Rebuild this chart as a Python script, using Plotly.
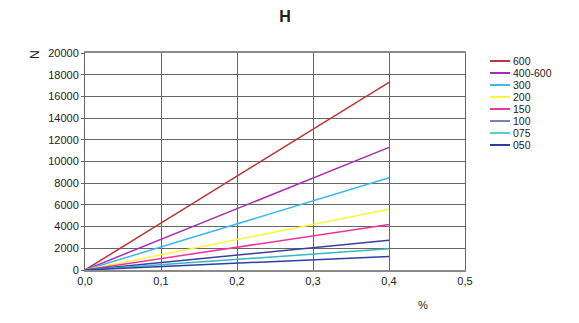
import plotly.graph_objects as go

strain = [0.0, 0.4]
series_names = ["600", "400-600", "300", "200", "150", "100", "075", "050"]
force_600 = [0, 17300]
force_400_600 = [0, 11300]
force_300 = [0, 8500]
force_200 = [0, 5600]
force_150 = [0, 4200]
force_100 = [0, 2750]
force_075 = [0, 1950]
force_050 = [0, 1250]
series_values = [force_600, force_400_600, force_300, force_200,
                 force_150, force_100, force_075, force_050]
colors = ["#B8383A", "#A62DB4", "#3DB8EE", "#FFF23A",
          "#F0339A", "#3A3F9E", "#33B8C4", "#2D3FA6"]
legend_colors = ["#B8383A", "#A62DB4", "#3DB8EE", "#FFF23A",
                 "#F0339A", "#7A7FC0", "#5CC8D0", "#2D3FA6"]

# plot-area geometry in pixels (for placing legend/labels in paper coords)
L, R, T, B = 85, 465, 53, 270
W, H = R - L, B - T

def px_x(p):
    return (p - L) / W

def px_y(p):
    return (B - p) / H

fig = go.Figure()
for name, vals, c in zip(series_names, series_values, colors):
    fig.add_trace(go.Scatter(x=strain, y=vals, mode="lines", name=name,
                             line=dict(color=c, width=1.5), showlegend=False))

shapes = []
annotations = []
for i, (name, c) in enumerate(zip(series_names, legend_colors)):
    yy = px_y(61 + 12 * i)
    shapes.append(dict(type="line", xref="paper", yref="paper",
                       x0=px_x(490), x1=px_x(510), y0=yy, y1=yy,
                       line=dict(color=c, width=2)))
    annotations.append(dict(text=name, xref="paper", yref="paper",
                            x=px_x(511), y=yy, xanchor="left",
                            yanchor="middle", showarrow=False,
                            font=dict(size=10.5, color="#222")))

annotations += [
    dict(text="N", xref="paper", yref="paper", x=px_x(35), y=px_y(55),
         xanchor="center", yanchor="middle", textangle=-90,
         showarrow=False, font=dict(size=12, color="#222")),
    dict(text="%", xref="paper", yref="paper", x=px_x(423), y=px_y(305),
         xanchor="center", yanchor="middle",
         showarrow=False, font=dict(size=11, color="#222")),
]

fig.update_layout(
    width=579, height=323,
    margin=dict(l=L, r=579 - R, t=T, b=323 - B, autoexpand=False),
    paper_bgcolor="white", plot_bgcolor="white",
    separators=",.",
    font=dict(family="Liberation Sans, Arial", size=10, color="#222"),
    title=dict(text="<b>H</b>", x=285 / 579, xanchor="center",
               y=1 - 16 / 323, yanchor="middle",
               font=dict(size=16, color="#222")),
    showlegend=False,
    xaxis=dict(range=[0, 0.5], dtick=0.1, tick0=0, tickformat=".1f",
               showgrid=True, gridcolor="#666666", gridwidth=1,
               showline=True, linecolor="#8a8a8a", linewidth=2, mirror=True,
               ticks="", zeroline=False, tickfont=dict(size=11)),
    yaxis=dict(range=[0, 20000], dtick=2000, tick0=0, tickformat="d",
               showgrid=True, gridcolor="#666666", gridwidth=1,
               showline=True, linecolor="#666666", linewidth=1, mirror=True,
               ticks="outside", ticklen=3, tickcolor="#666666",
               zeroline=False, tickfont=dict(size=11)),
    shapes=shapes,
    annotations=annotations,
)

fig.write_html("out.html", config={"displayModeBar": False},
               post_script="document.body.style.margin='0';")
